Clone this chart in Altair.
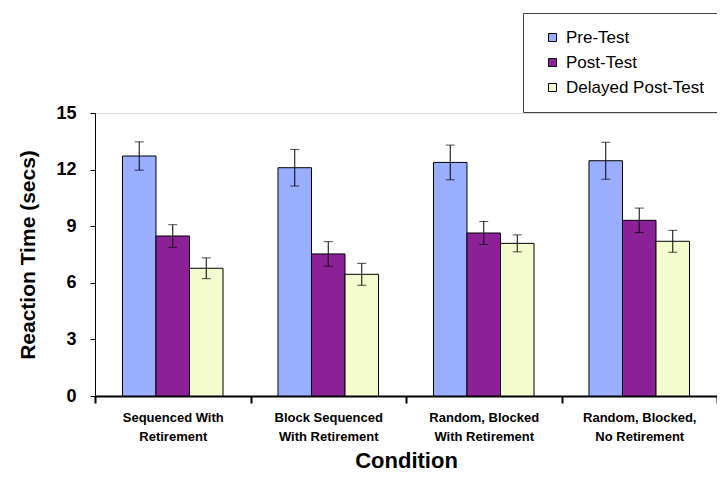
import altair as alt
import pandas as pd

conditions = [
    "Sequenced With\nRetirement",
    "Block Sequenced\nWith Retirement",
    "Random, Blocked\nWith Retirement",
    "Random, Blocked,\nNo Retirement",
]
tests = ["Pre-Test", "Post-Test", "Delayed Post-Test"]
colors = ["#9aaeff", "#8c2096", "#f4fbcf"]

pre = [12.72, 12.10, 12.38, 12.47]
post = [8.48, 7.53, 8.64, 9.31]
delayed = [6.77, 6.45, 8.09, 8.20]
pre_err = [0.75, 0.97, 0.92, 0.98]
post_err = [0.60, 0.65, 0.61, 0.65]
delayed_err = [0.55, 0.58, 0.45, 0.58]

rows = []
for i, c in enumerate(conditions):
    for t, vals, errs in zip(tests, [pre, post, delayed], [pre_err, post_err, delayed_err]):
        rows.append(dict(condition=c, test=t, rt=vals[i],
                         lo=vals[i] - errs[i], hi=vals[i] + errs[i]))
df = pd.DataFrame(rows)

font = "Liberation Sans"

x = alt.X(
    "condition:N", sort=conditions, title="Condition",
    scale=alt.Scale(paddingInner=0, paddingOuter=0),
    axis=alt.Axis(labelExpr="split(datum.label, '\\n')", labelAngle=0, tickBand="extent"),
)
xo = alt.XOffset("test:N", sort=tests, scale=alt.Scale(paddingInner=0, paddingOuter=0.82))
y_scale = alt.Scale(domain=[0, 15], nice=False, zero=True)
y_axis = alt.Axis(values=[0, 3, 6, 9, 12, 15], grid=False)
y_title = "Reaction Time (secs)"

bars = alt.Chart(df).mark_bar(stroke="black", strokeWidth=1).encode(
    x=x, xOffset=xo,
    y=alt.Y("rt:Q", scale=y_scale, axis=y_axis, title=y_title),
    color=alt.Color(
        "test:N", sort=tests, scale=alt.Scale(domain=tests, range=colors),
        legend=alt.Legend(
            title=None, orient="none", legendX=428, legendY=-100, direction="vertical",
            strokeColor="#444", fillColor="white", padding=16,
            symbolType="square", symbolSize=64, symbolStrokeColor="black",
            symbolStrokeWidth=1, symbolOpacity=1, symbolOffset=5,
            labelFont=font, labelFontSize=17, labelColor="black", labelOffset=5,
            rowPadding=7,
        ),
    ),
)

err = alt.Chart(df).mark_rule(color="black", strokeWidth=1).encode(
    x=x, xOffset=xo, y=alt.Y("lo:Q", scale=y_scale, axis=y_axis, title=y_title), y2="hi:Q"
)
cap_hi = alt.Chart(df).mark_tick(color="black", size=9, thickness=1, orient="horizontal").encode(
    x=x, xOffset=xo, y=alt.Y("hi:Q", scale=y_scale, axis=y_axis, title=y_title)
)
cap_lo = alt.Chart(df).mark_tick(color="black", size=9, thickness=1, orient="horizontal").encode(
    x=x, xOffset=xo, y=alt.Y("lo:Q", scale=y_scale, axis=y_axis, title=y_title)
)

chart = alt.layer(bars, err, cap_hi, cap_lo).properties(
    width=622, height=283,
    autosize=alt.AutoSizeParams(type="none"),
    padding={"left": 87, "top": 105, "right": 0, "bottom": 76},
).configure_view(stroke=None).configure(background="white").configure_axisX(
    labelFont=font, labelFontSize=13, labelFontWeight="bold", labelColor="black",
    labelLineHeight=19, labelPadding=8, tickSize=7, tickWidth=2,
    tickColor="black", domainColor="black", domainWidth=2,
    titleFont=font, titleFontSize=22, titleFontWeight="bold", titleColor="black",
    titlePadding=7,
).configure_axisY(
    labelFont=font, labelFontSize=18, labelFontWeight="bold", labelColor="black",
    labelPadding=14, tickSize=5, tickColor="black", domainColor="black", domainWidth=1,
    titleFont=font, titleFontSize=21, titleFontWeight="bold", titleColor="black",
    titlePadding=17,
)

chart.save("out.html", embed_options={"renderer": "svg", "actions": False})
